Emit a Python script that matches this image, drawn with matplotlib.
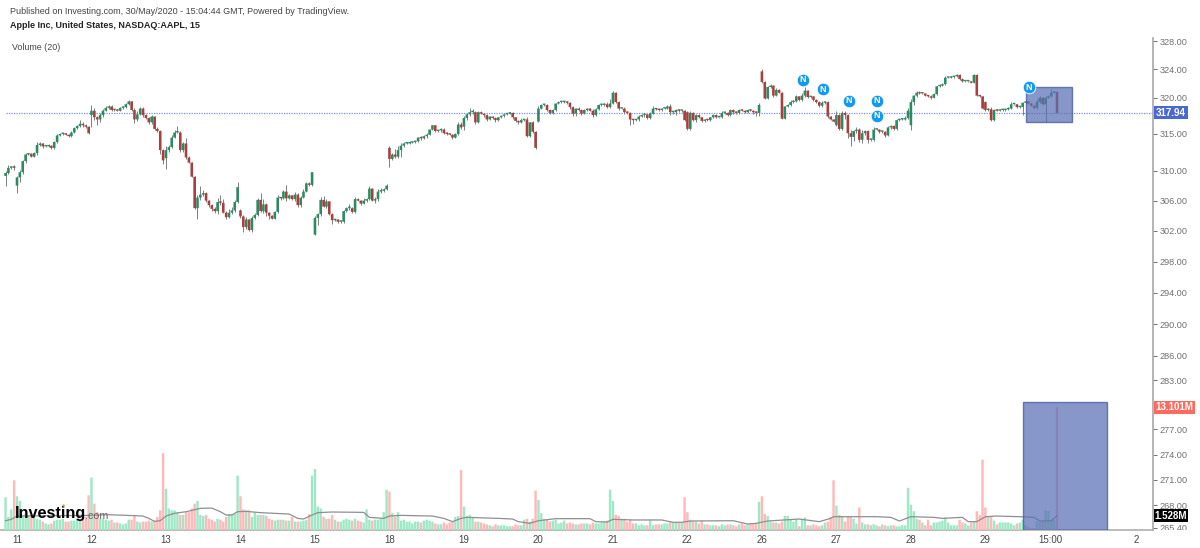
import numpy as np
import matplotlib
matplotlib.use("Agg")
import matplotlib.pyplot as plt
from matplotlib.patches import Rectangle
from matplotlib.ticker import NullLocator, FixedLocator, FixedFormatter
from matplotlib.transforms import Bbox

plt.rcParams['font.family'] = ['Liberation Sans', 'DejaVu Sans']

# --- AAPL 15 min bars (4 bars of the 8th first, then 26 a day) ---
closes = [
    309.7, 310.4, 310.5, 310.4,
    309.1, 309.8, 311.3, 312.2, 312.3, 311.9, 312.4, 313.5, 313.7, 313.3, 313.3, 313.4, 313.1, 313.9, 314.8, 315.0, 315.1, 314.9, 314.7, 315.2, 315.8, 316.1, 316.4, 316.2, 316.0, 315.1,
    318.2, 317.3, 317.0, 317.6, 318.2, 318.6, 318.8, 318.3, 318.3, 318.2, 318.6, 318.7, 319.1, 319.5, 318.3, 317.0, 317.7, 318.5, 317.6, 317.2, 316.6, 317.4, 315.7, 315.4, 312.8, 311.4,
    312.8, 313.2, 314.5, 315.2, 315.2, 312.8, 313.7, 311.8, 311.1, 309.2, 305.0, 306.4, 306.8, 307.0, 306.0, 305.4, 304.9, 304.6, 305.8, 305.7, 304.4, 303.8, 304.4, 304.7, 305.8, 307.8,
    303.9, 302.5, 303.5, 302.1, 303.7, 304.1, 306.1, 304.6, 305.5, 304.4, 304.0, 303.6, 304.5, 306.4, 306.3, 307.2, 306.3, 306.7, 306.2, 306.8, 305.4, 306.4, 307.2, 308.3, 308.1, 309.8,
    303.7, 304.2, 306.1, 305.2, 305.9, 304.2, 303.4, 303.5, 303.2, 303.2, 304.6, 305.0, 305.0, 304.5, 306.2, 306.0, 305.6, 306.0, 306.2, 307.6, 306.0, 306.2, 307.2, 307.3, 307.5, 308.0,
    311.6, 312.2, 311.9, 312.8, 313.4, 313.7, 313.7, 313.8, 313.9, 314.0, 314.5, 314.4, 314.7, 314.9, 315.6, 316.2, 315.4, 315.5, 315.6, 315.1, 315.0, 314.9, 314.5, 315.0, 316.3, 315.9,
    317.2, 317.7, 318.0, 318.0, 316.6, 318.0, 317.8, 317.6, 317.0, 317.4, 317.2, 316.9, 317.3, 317.5, 317.7, 317.8, 317.9, 317.3, 316.8, 316.6, 316.9, 317.0, 314.7, 316.6, 315.3, 313.1,
    318.5, 319.0, 319.0, 318.3, 317.9, 318.3, 319.2, 319.4, 319.4, 319.4, 319.3, 318.7, 317.8, 318.5, 318.3, 317.8, 318.3, 318.5, 318.2, 317.6, 318.4, 319.0, 319.0, 319.1, 318.7, 319.2,
    320.7, 319.4, 318.5, 318.5, 318.0, 317.9, 317.0, 316.9, 317.0, 317.4, 317.6, 317.7, 317.2, 317.8, 318.5, 318.4, 318.3, 318.5, 318.5, 318.8, 318.0, 318.0, 318.3, 318.2, 318.2, 316.9,
    315.7, 317.9, 316.9, 317.6, 317.3, 316.8, 317.0, 316.9, 317.3, 317.6, 317.3, 317.3, 317.9, 317.9, 317.6, 318.3, 318.0, 317.9, 318.3, 318.2, 318.0, 318.3, 318.2, 318.0, 317.9, 319.0,
    322.2, 319.9, 321.5, 321.7, 320.3, 321.1, 320.7, 317.1, 318.8, 319.0, 319.4, 319.5, 320.2, 319.7, 320.3, 321.0, 320.1, 320.2, 319.7, 319.4, 318.9, 319.3, 319.4, 317.4, 317.0, 316.7,
    317.6, 315.7, 317.9, 317.6, 315.1, 314.6, 315.4, 315.6, 314.2, 315.1, 315.4, 314.2, 314.2, 315.6, 315.6, 315.3, 315.3, 314.8, 315.9, 316.1, 315.7, 316.9, 317.0, 317.0, 317.2, 318.2,
    319.4, 320.3, 320.7, 320.6, 320.6, 320.3, 320.2, 320.0, 320.5, 321.6, 321.7, 321.9, 322.8, 322.8, 322.9, 323.0, 323.2, 322.6, 322.3, 322.3, 322.3, 322.1, 323.2, 320.3, 320.2, 318.5,
    318.3, 318.4, 316.9, 318.3, 318.2, 318.3, 318.3, 318.4, 318.5, 319.1, 319.1, 318.7, 318.7, 319.3, 319.5, 319.2, 318.9, 318.6, 319.4, 320.0, 319.1, 320.0, 320.2, 320.7, 320.8, 317.9,
]

# opens follow the previous close except at these bars (overnight gaps)
gap_opens = {0: 309.3, 4: 308.0, 30: 317.6, 56: 311.7, 82: 304.7, 108: 301.5, 134: 313.1, 160: 316.0,
             186: 316.7, 212: 319.2, 238: 318.0, 264: 323.7, 290: 316.2, 316: 316.2, 342: 319.4}

upper_wicks = [
    .2, .4, .2, .3,
    .2, .3, .2, .2, .1, .1, .1, .4, .2, .1, .1, .2, .1, .2, .2, .2, .1, .1, .1, .2, .2, .2, .5, .3, .2, .1,
    .8, .4, .2, .3, .2, .2, .2, .2, .2, .1, .1, .2, .2, .2, .1, .3, .4, .2, .2, .1, .1, .2, .1, .2, .2, .2,
    .5, .3, .4, .4, .9, .2, .2, .7, .2, .1, .1, .3, 1.1, .4, .2, .1, .2, .2, .6, 1.0, .5, .2, .5, .5, .3, .7,
    .2, .2, .3, .1, .2, .3, .3, .9, .7, .2, .1, .1, .1, .3, .1, .2, .9, .2, .1, .3, .2, .2, .3, .2, .2, .0,
    .2, .2, .4, .5, .3, .1, .1, .1, .1, .1, .1, .2, .5, .1, .3, .2, .1, .3, .2, .3, .1, .3, .3, .4, .2, .2,
    .2, .2, .7, .6, .3, .2, .2, .2, .1, .1, .1, .2, .1, .2, .1, .1, .1, .1, .2, .2, .2, .2, .1, .1, .3, .4,
    .3, .2, .6, .4, .1, .2, .1, .1, .1, .1, .1, .2, .1, .1, .1, .1, .1, .1, .1, .1, .3, .1, .4, .1, .2, .1,
    .3, .2, .1, .1, .1, .1, .1, .1, .1, .1, .1, .1, .2, .1, .2, .1, .1, .1, .1, .2, .2, .2, .1, .2, .3, .6,
    .2, .1, .2, .1, .2, .1, .1, .1, .1, .2, .1, .1, .1, .2, .3, .1, .1, .1, .2, .2, .3, .2, .2, .1, .1, .1,
    .1, .2, .1, .2, .1, .1, .1, .1, .1, .2, .1, .1, .2, .1, .1, .2, .1, .1, .2, .1, .1, .1, .1, .1, .1, .3,
    .3, .1, .2, .2, .1, .2, .1, .1, .1, .1, .3, .2, .2, .1, .3, .5, .1, .1, .1, .1, .1, .3, .2, .2, .1, .1,
    .6, .2, .3, .3, .2, .5, .2, .3, .2, .4, .1, .1, .1, .3, .2, .1, .1, .1, .2, .2, .1, .2, .1, .2, .3, .4,
    .4, .1, .2, .2, .1, .1, .1, .2, .2, .1, .2, .1, .2, .1, .1, .1, .1, .1, .1, .1, .1, .1, .1, .1, .1, .1,
    .1, .2, .3, .2, .1, .1, .1, .1, .2, .3, .1, .1, .1, .1, .2, .1, .1, .1, .4, .2, .1, .2, .2, .5, .2, .1,
]

lower_wicks = [
    1.4, .2, .1, .3,
    1.0, .6, .2, .2, .1, .1, .1, .2, .1, .2, .1, .1, .2, .2, .1, .1, .1, .1, .1, .1, .1, .1, .1, .2, .2, .1,
    1.6, .4, .8, .3, .2, .1, .1, .1, .1, .1, .1, .1, .1, .1, .2, .5, .2, .1, .2, .1, .2, .2, .2, .1, .5, .5,
    1.4, .2, .1, .1, .1, .2, .2, .2, .1, .1, .1, 1.4, .3, .2, .2, .2, .3, .3, .4, .3, .1, .3, .1, .2, .2, .1,
    .2, .7, .2, .1, .2, .2, .2, .1, .2, .4, .5, .1, .1, .1, .2, .1, .3, .1, .1, .2, .3, .3, .1, .1, .1, .1,
    .1, .9, .2, .1, .2, .1, .5, .1, .2, .1, .1, .1, .2, .2, .1, .1, .2, .1, .2, .1, .1, .3, .2, .2, .1, .1,
    1.1, .2, .2, .2, 1.0, .2, .1, .1, .1, .2, .1, .2, .1, .2, .1, .1, .1, .1, .2, .1, .1, .1, .2, .1, .1, .2,
    .5, .3, .2, .2, .2, .1, .1, .2, .2, .1, .1, .2, .1, .1, .1, .1, .1, .2, .2, .2, .1, .1, .1, .1, .2, .1,
    .1, .1, .2, .2, .1, .1, .1, .1, .1, .1, .1, .2, .3, .3, .2, .2, .1, .1, .1, .2, .1, .1, .1, .1, .1, .1,
    .1, .1, .2, .1, .2, .1, .7, .5, .1, .2, .1, .2, .2, .1, .1, .1, .1, .1, .1, .1, .4, .3, .4, .2, .2, .1,
    .1, .1, .1, .2, .1, .2, .1, .1, .1, .1, .1, .1, .1, .2, .1, .1, .2, .1, .1, .1, .1, .1, .1, .2, .4, .4,
    .1, .1, .1, .1, .2, .1, .1, .1, .1, .1, .1, .1, .1, .1, .1, .2, .2, .1, .1, .1, .2, .2, .2, .2, .1, .1,
    .1, .1, .1, .6, .7, 1.2, .5, .3, .3, .4, .3, .4, .2, .2, .1, .2, .2, .2, .1, .2, .1, .1, .1, .1, .1, .2,
    .7, .4, .2, .1, .1, .1, .1, .2, .1, .1, .1, .1, .1, .1, .1, .1, .1, .1, .1, .1, .1, .1, .1, .1, .1, .1,
    .1, .1, .1, .1, .1, .1, .1, .1, .1, .1, .1, .1, .1, 1.1, .1, .1, .1, .1, .1, .1, .1, 2.5, .1, .1, .1, .0,
]

# volume in millions
volumes = [
    3.5, 1.4, 2.2, 5.3,
    3.6, 3.1, 1.6, 1.8, 1.6, 1.6, 1.4, 1.2, 1.1, .9, .7, .6, .7, 1.0, 1.1, 1.1, 1.2, .9, .9, 1.0, 1.0, 1.1, 1.1, 1.1, 1.4, 3.7,
    5.6, 2.8, 1.9, 1.2, 1.2, 1.1, 1.0, 1.1, .8, .8, .7, .6, .7, 1.1, 1.1, 1.6, .9, .8, .9, .9, 1.0, .9, 1.0, 1.4, 2.1, 8.2,
    4.4, 2.3, 2.1, 2.1, 1.9, 1.6, 1.6, 1.9, 1.9, 2.3, 2.8, 3.1, 1.6, 1.5, 1.6, 1.2, 1.1, .9, 1.2, 1.1, .9, 1.4, 1.7, 1.7, 1.7, 5.8,
    3.6, 2.2, 2.1, 2.1, 1.4, 1.9, 1.6, 1.6, 1.6, 1.5, 1.2, 1.1, 1.0, 1.1, 1.1, 1.1, 1.0, 1.0, 1.4, .9, .9, .9, 1.0, 1.1, 1.7, 5.8,
    6.5, 2.5, 2.3, 1.4, 1.2, 1.2, 1.6, 1.1, .9, .9, 1.1, 1.2, 1.1, 1.0, 1.2, 1.0, .9, .8, 2.2, 1.1, 1.0, 1.1, 1.1, 1.2, 1.9, 4.3,
    4.1, 1.8, 1.4, 1.9, 1.0, 1.1, .9, .9, .7, .9, .9, .8, 1.0, 1.1, 1.0, .9, .7, .6, .6, .8, .6, .8, .9, 1.4, 1.5, 6.4,
    2.5, 1.5, 1.6, 1.4, .9, .9, .8, .7, .6, .5, .4, .6, .5, .5, .5, .4, .4, .4, .6, .5, .5, 1.1, 1.2, .9, 1.2, 4.2,
    3.2, 1.8, 1.2, 1.1, .9, 1.0, 1.1, .7, .8, 1.0, .7, .8, .7, .6, .6, .7, .7, .7, .6, .8, .7, .7, .8, .9, 1.0, 4.3,
    3.1, 1.6, 1.5, 1.2, 1.2, .9, 1.1, .7, .7, .5, .6, .5, .5, 1.1, .5, .6, .6, .6, .7, .7, .9, .8, .8, .8, .8, 3.5,
    1.9, 1.1, .9, .9, .7, 1.0, .6, .6, .5, .5, .5, .4, .6, .5, .6, .6, .5, .4, .6, .7, .5, .6, .7, .7, .7, 3.0,
    3.6, 1.7, 1.5, .9, .8, .8, .7, .9, 1.5, 1.5, 1.1, .9, 1.1, .4, 1.1, 1.35, .5, .5, .6, .5, .4, .5, .8, .9, 1.4, 5.3,
    2.6, 1.6, 1.5, .9, 1.4, 1.4, 1.2, .7, 2.4, .8, .6, .6, .5, .6, .5, .4, .6, .5, .4, .5, .5, .4, .4, .5, .5, 4.5,
    2.7, 2.0, 1.2, 1.1, .8, .5, 1.1, .5, .8, .8, .9, 1.0, 1.35, .8, .5, .5, .5, 1.1, .8, .7, .5, .8, .9, 2.0, 1.6, 7.5,
    2.4, 1.4, 1.4, 1.0, .6, .8, .8, .8, .8, .7, .5, .7, .8, 1.1, .5, .3, .2, .2, .9, .9, .9, 2.1, 2.0, 1.1, 1.1, 13.101,
]

# gray volume average line, read at its bends
ma_bars = [-4, -2, 0, 26, 29, 32, 41, 44, 46, 48, 50, 52, 55, 59, 64, 68, 71, 73, 75, 77, 80, 85, 95, 98, 100, 103, 105,
           110, 121, 123, 128, 130, 134, 145, 149, 152, 155, 157, 168, 173, 175, 179, 182, 188, 200, 202, 206, 208, 215,
           225, 229, 232, 235, 250, 255, 258, 262, 273, 280, 284, 285, 300, 305, 308, 312, 320, 323, 330, 332, 335, 338,
           342, 350, 355, 357, 361, 363]
ma_values = [0.99, 1.14, 1.49, 1.56, 1.60, 1.63, 1.53, 1.49, 1.24, 0.92, 0.99, 1.49, 1.78, 1.95, 2.31, 2.34, 1.95, 1.60, 1.60, 1.95, 1.99, 1.85, 1.70, 1.24, 1.17, 1.60, 1.85,
             1.92, 1.88, 1.35, 1.24, 1.49, 1.56, 1.49, 1.24, 0.89, 1.24, 1.35, 1.24, 1.17, 0.89, 0.71, 0.99, 1.21, 1.21, 0.89, 0.85, 1.14, 1.07,
             1.07, 0.82, 0.82, 0.96, 0.99, 0.64, 0.71, 0.96, 1.17, 0.89, 1.24, 1.42, 1.42, 1.35, 0.96, 1.42, 1.35, 1.24, 1.35, 0.89, 0.89, 1.42,
             1.49, 1.42, 1.35, 0.96, 0.99, 1.528]

# axis labels
price_ticks = [265.4, 268, 271, 274, 277, 283, 286, 290, 294, 298, 302, 306, 310, 315, 320, 324, 328]
date_bars = [0, 26, 52, 78, 104, 130, 156, 182, 208, 234, 260, 286, 312, 338, 360.6, 390.6]
date_labels = ['11', '12', '13', '14', '15', '18', '19', '20', '21', '22', '26', '27', '28', '29', '15:00', '2']

# news flags
news_bars = [274.3, 281.3, 290.4, 300.2, 300.2, 353.2]
news_prices = [322.5, 321.2, 319.6, 319.6, 317.5, 321.5]

last_price = 317.94
last_volume = 13.101
last_average = 1.528

GREEN = '#2a8a60'
RED = '#a83f3d'
VOL_GREEN = '#9fe8c6'
VOL_RED = '#ffb9b9'

# --- build bars ---
closes = np.array(closes)
opens = np.r_[closes[0], closes[:-1]]
for k, v in gap_opens.items():
    opens[k] = v
volumes = np.array(volumes)
upper_wicks = np.array(upper_wicks)
lower_wicks = np.array(lower_wicks)
bars = np.arange(len(closes)) - 4
up = closes >= opens
body_low = np.minimum(opens, closes)
body_high = np.maximum(opens, closes)
highs = body_high + upper_wicks
lows = body_low - lower_wicks

# --- figure ---
fig = plt.figure(figsize=(12, 5.48), dpi=100)
ax = fig.add_axes([0, 18 / 548, 1153 / 1200, 492 / 548])
ax.set_yscale('log')
ax.set_ylim(265.15, 328.43)
ax.set_xlim(-5.93, 396.5)

# volume pane shares the area
ax_vol = ax.twinx()
ax_vol.set_ylim(0, 52.5)
ax_vol.set_yscale('linear')
ax_vol.axis('off')

ax.hlines(last_price, -4, 396.5, color='#7d8fdc', linestyle=(0, (1, 1)), linewidth=0.9, zorder=1)

ax.vlines(bars, lows, highs, color='#7b817d', linewidth=0.7, zorder=2)
heights = np.maximum(body_high - body_low, 0.2)
ax.bar(bars[up], heights[up], bottom=body_low[up], width=0.9,
       color=GREEN, linewidth=0, snap=False, zorder=3)
ax.bar(bars[~up], heights[~up], bottom=body_low[~up], width=0.9,
       color=RED, linewidth=0, snap=False, zorder=3)

ax.add_patch(Rectangle((352.2, 316.65), 16, 321.5 - 316.65, facecolor='#5a6fb4', edgecolor='#3d5298',
                       alpha=0.72, linewidth=1, zorder=4))

ax.scatter(news_bars, news_prices, s=82, color='#1499f0', edgecolor='white', linewidth=0.6, zorder=6)
for b, p in zip(news_bars, news_prices):
    ax.text(b, p, 'N', color='white', fontsize=6.5, fontweight='bold', ha='center', va='center', zorder=7)

# axes look
for side in ['top', 'left']:
    ax.spines[side].set_visible(False)
ax.spines['right'].set_color('#a8a8a8')
ax.spines['right'].set_linewidth(1.2)
ax.spines['bottom'].set_color('#a8a8a8')
ax.spines['bottom'].set_linewidth(1.1)

ax.yaxis.tick_right()
ax.yaxis.set_major_locator(FixedLocator(price_ticks))
ax.yaxis.set_major_formatter(FixedFormatter(['%.2f' % p for p in price_ticks]))
ax.yaxis.set_minor_locator(NullLocator())
ax.tick_params(axis='y', which='major', labelsize=6.6, colors='#707070', length=3, width=0.7, pad=2)
ax.set_xticks(date_bars)
ax.set_xticklabels(date_labels)
ax.tick_params(axis='x', labelsize=7, colors='#444444', length=0, pad=3.5)

# bottom label gets cut by the pane edge
cut = ax.get_yticklabels()[0]
cut.set_clip_on(True)
cut.set_clip_box(Bbox([[1100, 18], [1200, 548]]))

# volume bars and average
ax_vol.bar(bars, volumes, width=0.84, color=[VOL_GREEN if u else VOL_RED for u in up], linewidth=0,
           snap=False, zorder=2)
ax_vol.plot(ma_bars, ma_values, color='#8f8f8f', linewidth=0.9, zorder=3)
ax_vol.add_patch(Rectangle((351.1, 0), 29.3, 13.63, facecolor='#5a6fb4', edgecolor='#3d5298',
                           alpha=0.72, linewidth=1, zorder=4))

# logo
ax_vol.text(-0.7, 1.75, 'Investing', fontsize=11.7, fontweight='bold', color='black', va='center', ha='left', zorder=6)
ax_vol.text(23.7, 1.45, '.com', fontsize=7.7, color='#666666', va='center', ha='left', zorder=6)
ax_vol.scatter([16], [2.66], s=3, color='#e8a33d', linewidth=0, zorder=7)


def value_tag(axis, value, label, color, width):
    # coloured label box sitting on the price scale
    y = axis.transData.transform((0, value))[1]
    fig.add_artist(Rectangle((1154 / 1200, (y - 6.5) / 548), width / 1200, 13 / 548, transform=fig.transFigure,
                             facecolor=color, edgecolor='none', zorder=5))
    fig.text((1154 + width / 2) / 1200, y / 548, label, fontsize=7, color='white', fontweight='bold',
             ha='center', va='center', zorder=6)


value_tag(ax, last_price, '%.2f' % last_price, '#4a67d6', 34)
value_tag(ax_vol, last_volume, '%.3fM' % last_volume, '#ff6a5f', 41)
value_tag(ax_vol, last_average, '%.3fM' % last_average, 'black', 34)

# --- header ---
fig.text(10 / 1200, 1 - 11 / 548, 'Published on Investing.com, 30/May/2020 - 15:04:44 GMT, Powered by TradingView.',
         fontsize=6.5, color='#444444', va='center')
fig.text(10 / 1200, 1 - 26 / 548, 'Apple Inc, United States, NASDAQ:AAPL, 15',
         fontsize=6.5, color='#222222', fontweight='bold', va='center')
fig.text(12 / 1200, 1 - 47 / 548, 'Volume (20)', fontsize=6.4, color='#444444', va='center')

fig.savefig('out.png', dpi=100)
